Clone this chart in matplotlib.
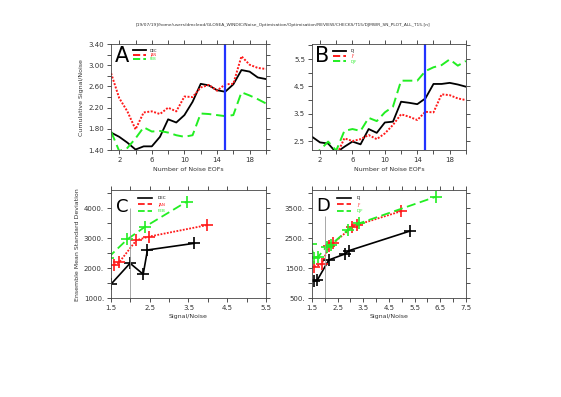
import matplotlib
matplotlib.use('Agg')
import matplotlib.pyplot as plt
from matplotlib.lines import Line2D
import numpy as np

# --- data -------------------------------------------------------------
n_eofs = list(range(1, 21))

# panel A: cumulative signal/noise, monthly
sn_dec = [1.73, 1.65, 1.54, 1.41, 1.47, 1.47, 1.65, 1.98, 1.92, 2.06,
          2.31, 2.65, 2.62, 2.53, 2.50, 2.64, 2.91, 2.88, 2.77, 2.74]
sn_jan = [2.85, 2.38, 2.13, 1.79, 2.11, 2.13, 2.08, 2.20, 2.13, 2.41,
          2.40, 2.58, 2.63, 2.52, 2.64, 2.65, 3.17, 3.01, 2.95, 2.93]
sn_feb = [1.75, 1.38, 1.44, 1.62, 1.83, 1.75, 1.76, 1.73, 1.68, 1.65,
          1.68, 2.09, 2.08, 2.06, 2.04, 2.06, 2.49, 2.43, 2.36, 2.28]

# panel B: cumulative signal/noise, seasonal means
sn_dj = [2.66, 2.45, 2.41, 2.08, 2.29, 2.48, 2.38, 2.94, 2.80, 3.18,
         3.21, 3.94, 3.90, 3.85, 4.06, 4.59, 4.59, 4.63, 4.57, 4.49]
sn_jf = [1.95, 1.90, 1.95, 1.95, 2.60, 2.50, 2.57, 2.72, 2.57, 2.78,
         3.09, 3.48, 3.39, 3.27, 3.57, 3.55, 4.21, 4.18, 4.06, 4.00]
sn_djf = [2.00, 2.17, 2.48, 2.15, 2.87, 2.94, 2.87, 3.35, 3.23, 3.55,
          3.76, 4.71, 4.71, 4.71, 5.06, 5.20, 5.28, 5.49, 5.26, 5.43]

# panel C: signal/noise vs ensemble mean standard deviation
c_dec_x = [1.50, 1.99, 2.33, 2.44, 3.65]
c_dec_y = [1470, 2167, 1800, 2611, 2833]
c_jan_x = [1.58, 1.71, 2.15, 2.47, 3.99]
c_jan_y = [2111, 2200, 2933, 3055, 3444]
c_feb_x = [1.42, 1.92, 2.38, 3.45]
c_feb_y = [2350, 2967, 3389, 4222]

# panel D
d_dj_x = [1.57, 1.70, 2.16, 2.79, 2.94, 5.32]
d_dj_y = [1070, 1090, 1777, 1977, 2087, 2743]
d_jf_x = [1.59, 1.88, 2.17, 2.33, 3.08, 3.26, 4.99]
d_jf_y = [1553, 1633, 2253, 2333, 2887, 2950, 3410]
d_djf_x = [1.45, 1.59, 1.75, 2.07, 2.25, 2.90, 3.34, 6.33]
d_djf_y = [2300, 1853, 1890, 2220, 2290, 2780, 3000, 3890]

title = ('[19/07/19]/home/users/dmcleod/GLOSEA_WINDIC/Noise_Optimisation/'
         'Optimisation/REVIEW/CHECKS/T15/DJMWR_SN_PLOT_ALL_T15.[n]')

# --- styles -----------------------------------------------------------
BLACK = 'black'
RED = '#ff1a1a'
GREEN = '#22ee22'
BLUE = '#2233ff'
TXT = '#333333'
DOT = (0, (1, 0.8))
DASH = (0, (5, 2.5))

fig = plt.figure(figsize=(5.61, 3.97), dpi=100)
fig.text(0.505, 0.937, title, fontsize=3.2, ha='center', va='center', color=TXT)

ax_a = fig.add_axes([0.198, 0.622, 0.276, 0.267])
ax_b = fig.add_axes([0.556, 0.622, 0.2745, 0.267])
ax_c = fig.add_axes([0.198, 0.249, 0.276, 0.272])
ax_d = fig.add_axes([0.556, 0.249, 0.2745, 0.272])


def style(ax, xticks, xlab_every, xfmt, yticks, ylab_every, yfmt):
    ax.set_xticks(xticks)
    ax.set_xticklabels([xfmt.format(v) if i % xlab_every == 0 else ''
                        for i, v in enumerate(xticks)])
    ax.set_yticks(yticks)
    ax.set_yticklabels([yfmt.format(v) if i % ylab_every == 0 else ''
                        for i, v in enumerate(yticks)])
    ax.tick_params(direction='out', length=3, width=0.6, top=True, right=True,
                   labelsize=5, colors=TXT, pad=2)
    for s in ax.spines.values():
        s.set_linewidth(0.6)
        s.set_color('#444444')


def legend(ax, x0, y0, fs, spacing, hl, pad):
    # line-only handles (no markers), like the original legend
    lines, labels = ax.get_legend_handles_labels()
    handles = [Line2D([], [], color=l.get_color(), lw=l.get_linewidth(),
                      ls=l.get_linestyle()) for l in lines]
    ax.legend(handles, labels, loc='upper left', bbox_to_anchor=(x0, y0),
              fontsize=fs, labelspacing=spacing, handlelength=hl,
              handletextpad=pad, borderaxespad=0, borderpad=0,
              frameon=False, labelcolor='linecolor')


# panel A
ax_a.plot(n_eofs, sn_dec, color=BLACK, lw=1.3, label='DEC')
ax_a.plot(n_eofs, sn_jan, color=RED, lw=1.4, ls=DOT, label='JAN')
ax_a.plot(n_eofs, sn_feb, color=GREEN, lw=1.4, ls=DASH, label='FEB')
ax_a.axvline(15, color=BLUE, lw=1.6)
ax_a.set_xlim(1, 20)
ax_a.set_ylim(1.40, 3.40)
style(ax_a, np.arange(2, 21, 2), 2, '{:.0f}', np.arange(1.4, 3.41, 0.2), 2, '{:.2f}')
ax_a.set_xlabel('Number of Noise EOFs', fontsize=4.5, color=TXT, labelpad=3)
ax_a.set_ylabel('Cumulative Signal/Noise', fontsize=4.5, color=TXT, labelpad=3)
ax_a.text(0.026, 0.985, 'A', transform=ax_a.transAxes, fontsize=15,
          va='top', ha='left')
legend(ax_a, 0.142, 0.958, 2.5, 0.1, 3.7, 1.1)

# panel B
ax_b.plot(n_eofs, sn_dj, color=BLACK, lw=1.3, label='DJ')
ax_b.plot(n_eofs, sn_jf, color=RED, lw=1.4, ls=DOT, label='JF')
ax_b.plot(n_eofs, sn_djf, color=GREEN, lw=1.4, ls=DASH, label='DJF')
ax_b.axvline(15, color=BLUE, lw=1.6)
ax_b.set_xlim(1, 20)
ax_b.set_ylim(2.17, 6.05)
style(ax_b, np.arange(2, 21, 2), 2, '{:.0f}', np.arange(2.5, 6.01, 0.5), 2, '{:.1f}')
ax_b.set_xlabel('Number of Noise EOFs', fontsize=4.5, color=TXT, labelpad=3)
ax_b.text(0.02, 0.985, 'B', transform=ax_b.transAxes, fontsize=15,
          va='top', ha='left')
legend(ax_b, 0.136, 0.953, 2.8, 0.35, 3.5, 1.1)

# panel C
mk = dict(marker='+', ms=8, mew=1.2)
ax_c.plot(c_dec_x, c_dec_y, color=BLACK, lw=1.2, label='DEC', **mk)
ax_c.plot(c_jan_x, c_jan_y, color=RED, lw=1.3, ls=DOT, label='JAN', **mk)
ax_c.plot(c_feb_x, c_feb_y, color=GREEN, lw=1.3, ls=DASH, label='FEB', **mk)
ax_c.vlines(2.0, 1000, 4030, color='#999999', lw=0.6)
ax_c.set_xlim(1.5, 5.5)
ax_c.set_ylim(1000, 4610)
style(ax_c, np.arange(1.5, 5.51, 0.5), 2, '{:.1f}', np.arange(1000, 4501, 500), 2, '{:.0f}.')
ax_c.set_xlabel('Signal/Noise', fontsize=4.5, color=TXT, labelpad=2)
ax_c.set_ylabel('Ensemble Mean Standard Deviation', fontsize=4.5, color=TXT, labelpad=3)
ax_c.text(0.035, 0.93, 'C', transform=ax_c.transAxes, fontsize=13,
          va='top', ha='left')
legend(ax_c, 0.174, 0.944, 3, 0.6, 3.4, 1.4)

# panel D
ax_d.plot(d_dj_x, d_dj_y, color=BLACK, lw=1.2, label='DJ', **mk)
ax_d.plot(d_jf_x, d_jf_y, color=RED, lw=1.3, ls=DOT, label='JF', **mk)
ax_d.plot(d_djf_x, d_djf_y, color=GREEN, lw=1.3, ls=DASH, label='DJF', **mk)
ax_d.vlines(2.0, 500, 3250, color='#999999', lw=0.6)
ax_d.set_xlim(1.5, 7.5)
ax_d.set_ylim(500, 4110)
style(ax_d, np.arange(1.5, 7.51, 0.5), 2, '{:.1f}', np.arange(500, 4001, 500), 2, '{:.0f}.')
ax_d.set_xlabel('Signal/Noise', fontsize=4.5, color=TXT, labelpad=2)
ax_d.text(0.025, 0.94, 'D', transform=ax_d.transAxes, fontsize=13,
          va='top', ha='left')
legend(ax_d, 0.162, 0.944, 3, 0.6, 3.4, 1.4)

fig.savefig('out.png', dpi=100)
